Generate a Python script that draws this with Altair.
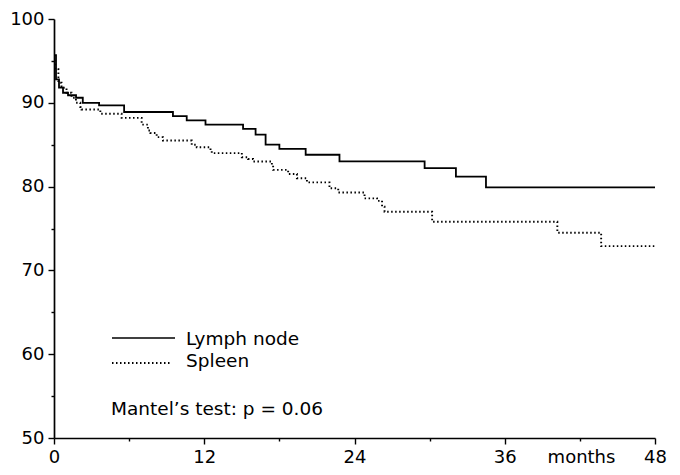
import altair as alt
import pandas as pd

# Kaplan-Meier style step curves (months, % surviving)
lymph_months = [0, 0.16, 0.4, 0.72, 1.12, 1.76, 2.3, 3.6, 5.6, 9.5,
                10.6, 12.1, 15.1, 16.1, 16.9, 18.0, 20.1, 22.8, 29.6, 32.1,
                34.5, 48]
lymph_pct = [95.7, 92.8, 91.8, 91.2, 90.9, 90.6, 90.0, 89.7, 88.9, 88.4,
             87.9, 87.4, 86.9, 86.2, 85.0, 84.5, 83.8, 83.0, 82.2, 81.2,
             79.9, 79.9]

spleen_months = [0, 0.1, 0.35, 0.6, 1.0, 1.4, 1.75, 2.1, 2.2, 3.7,
                 5.4, 7.0, 7.5, 7.7, 8.2, 8.7, 11.0, 11.4, 12.5, 12.6,
                 15.0, 15.5, 15.9, 17.4, 17.5, 18.7, 19.4, 20.2, 22.0, 22.7,
                 24.8, 25.8, 26.2, 26.4, 30.2, 40.2, 43.7, 48]
spleen_pct = [95.0, 94.0, 92.4, 91.8, 91.2, 90.6, 90.0, 89.5, 89.2, 88.7,
              88.2, 87.4, 86.7, 86.4, 85.9, 85.5, 85.0, 84.7, 84.3, 84.0,
              83.5, 83.3, 83.0, 82.5, 82.0, 81.5, 81.0, 80.5, 79.8, 79.3,
              78.6, 78.3, 77.6, 77.0, 75.8, 74.5, 72.9, 72.9]

x_ticks = [0, 3, 6, 9, 12, 15, 18, 21, 24, 27, 30, 33, 36, 39, 42, 45, 48]
y_ticks = [50, 55, 60, 65, 70, 75, 80, 85, 90, 95, 100]

legend_labels = ["Lymph node", "Spleen"]
test_label = ["Mantel\u2019s test: p = 0.06"]
x_title = "months"

FONT = "DejaVu Sans"
W, H = 601, 419

df_l = pd.DataFrame({"month": lymph_months, "pct": lymph_pct})
df_s = pd.DataFrame({"month": spleen_months, "pct": spleen_pct})

x_scale = alt.Scale(domain=[0, 48], nice=False, zero=False)
y_scale = alt.Scale(domain=[50, 100], nice=False, zero=False)

x_axis = alt.Axis(
    values=x_ticks,
    labelExpr="datum.value % 12 === 0 ? datum.label : ''",
    tickSize={"condition": {"test": "datum.value % 12 === 0", "value": 6}, "value": 3},
    title=x_title, titleX=527, titleY=10, titleAlign="center", titleBaseline="top",
    titleFontWeight="normal", titleFontSize=18, titleFont=FONT, titleColor="black",
    labelFont=FONT, labelFontSize=18, labelColor="black", labelPadding=4,
    domainColor="black", domainWidth=1.7, tickColor="black", tickWidth=1.4,
    grid=False, labelFlush=False,
)
y_axis = alt.Axis(
    values=y_ticks,
    labelExpr="datum.value % 10 === 0 ? datum.label : ''",
    tickSize={"condition": {"test": "datum.value % 10 === 0", "value": 6}, "value": 3},
    title=None,
    labelFont=FONT, labelFontSize=18, labelColor="black", labelPadding=4,
    domainColor="black", domainWidth=1.7, tickColor="black", tickWidth=1.4,
    grid=False, labelFlush=False,
)

lymph = alt.Chart(df_l).mark_line(
    interpolate="step-after", color="black", strokeWidth=1.8
).encode(
    x=alt.X("month:Q", scale=x_scale, axis=x_axis),
    y=alt.Y("pct:Q", scale=y_scale, axis=y_axis),
)

spleen = alt.Chart(df_s).mark_line(
    interpolate="step-after", color="black", strokeWidth=1.9, strokeDash=[1.5, 2.5]
).encode(
    x=alt.X("month:Q", scale=x_scale),
    y=alt.Y("pct:Q", scale=y_scale),
)

one = pd.DataFrame({"a": [0]})
leg_solid = alt.Chart(one).mark_rule(color="black", strokeWidth=1.7).encode(
    x=alt.value(58), x2=alt.value(121), y=alt.value(319)
)
leg_dot = alt.Chart(one).mark_rule(color="black", strokeWidth=1.8, strokeDash=[1.5, 2.5]).encode(
    x=alt.value(58), x2=alt.value(118), y=alt.value(344)
)

txt_l = alt.Chart(pd.DataFrame({"t": [legend_labels[0]]})).mark_text(
    font=FONT, fontSize=18.5, align="left", baseline="alphabetic", color="black"
).encode(x=alt.value(132), y=alt.value(326), text="t:N")
txt_s = alt.Chart(pd.DataFrame({"t": [legend_labels[1]]})).mark_text(
    font=FONT, fontSize=18.5, align="left", baseline="alphabetic", color="black"
).encode(x=alt.value(132), y=alt.value(348), text="t:N")
txt_m = alt.Chart(pd.DataFrame({"t": test_label})).mark_text(
    font=FONT, fontSize=18.5, align="left", baseline="alphabetic", color="black"
).encode(x=alt.value(57), y=alt.value(396), text="t:N")

chart = alt.layer(lymph, spleen, leg_solid, leg_dot, txt_l, txt_s, txt_m).properties(
    width=W, height=H,
    autosize=alt.AutoSizeParams(type="none"),
    padding={"left": 46, "top": 11, "right": 14, "bottom": 29},
    background="white",
).configure_view(stroke=None)

chart.save("out.html", embed_options={"renderer": "svg", "actions": False})
